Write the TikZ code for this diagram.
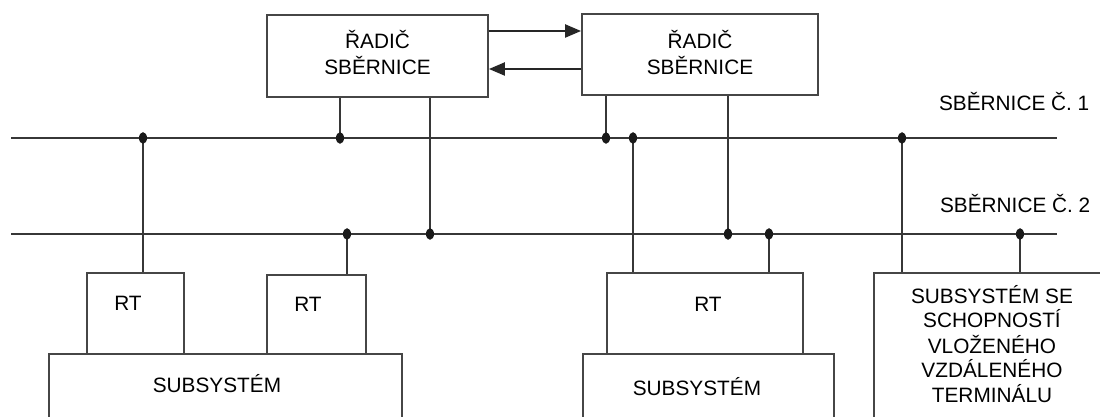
\documentclass[tikz,border=0pt]{standalone}
\usepackage{fontspec}
\setmainfont{Liberation Sans}
\usetikzlibrary{arrows.meta}
\newcommand\liftbox[2]{\raisebox{#1}[0pt][0pt]{#2}}
\definecolor{linec}{RGB}{55,55,55}
\definecolor{boxc}{RGB}{70,70,70}
\begin{document}
\begin{tikzpicture}[x=0.5pt,y=-0.5pt,
  txt/.style={font=\fontsize{10.4pt}{11.5pt}\selectfont, text=black},
  box/.style={txt, draw=boxc, line width=0.9pt, inner sep=0pt, fill=white},
  ctrl/.style={box, font=\fontsize{10.4pt}{12.75pt}\selectfont},
  bus/.style={draw=linec, line width=0.85pt},
  conn/.style={draw=linec, line width=0.85pt},
  arr/.style={draw=black!85, line width=1.1pt, -{Triangle[length=8pt,width=6.5pt]}},
  junction/.style={fill=black!90}
]
\useasboundingbox (0,0) rectangle (1100,417);
\clip (0,0) rectangle (1100,417);

% bus end points and junctions
\coordinate (b1w) at (11,138);  \coordinate (b1e) at (1057,138);
\coordinate (b2w) at (11,234);  \coordinate (b2e) at (1057,234);
\coordinate (j1) at (143,138);
\coordinate (j2) at (340,138);
\coordinate (j3) at (430,234);
\coordinate (j4) at (347,234);
\coordinate (j5) at (606,138);
\coordinate (j6) at (633,138);
\coordinate (j7) at (728,234);
\coordinate (j8) at (769,234);
\coordinate (j9) at (902,138);
\coordinate (j10) at (1020,234);
\coordinate (a1) at (0,31);
\coordinate (a2) at (0,69);

% buses
\draw[bus] (b1w) -- (b1e);
\draw[bus] (b2w) -- (b2e);
\node[txt, anchor=base west] (bl1) at (932,111) {SBĚRNICE Č. 1};
\node[txt, anchor=base west] (bl2) at (933,213) {SBĚRNICE Č. 2};

% boxes
\node[ctrl, minimum width=110.5pt, minimum height=41pt] (lc) at (377.5,56)
  {\liftbox{3.5pt}{\begin{tabular}[t]{@{}c@{}}ŘADIČ\\SBĚRNICE\end{tabular}}};
\node[ctrl, minimum width=118pt, minimum height=40.5pt] (rc) at (700,54.5)
  {\liftbox{3pt}{\begin{tabular}[t]{@{}c@{}}ŘADIČ\\SBĚRNICE\end{tabular}}};

\node[box, minimum width=176.5pt, minimum height=43pt] (sub1) at (225.5,397)
  {\liftbox{2pt}{SUBSYSTÉM\kern8.5pt}};
\node[box, minimum width=125.5pt, minimum height=43pt] (sub2) at (708.5,397)
  {\liftbox{1pt}{SUBSYSTÉM\kern11.5pt}};
\node[box, minimum width=48.5pt, minimum height=40.5pt] (rt1) at (135.5,313.5)
  {\liftbox{1.25pt}{RT\kern7.5pt}};
\node[box, minimum width=49.5pt, minimum height=39.5pt] (rt2) at (316.5,314.5)
  {\liftbox{1.75pt}{RT\kern8.5pt}};
\node[box, minimum width=98pt, minimum height=40.5pt] (rt3) at (705,313.5)
  {\liftbox{1pt}{\kern3pt RT}};
\node[box, minimum width=118pt, minimum height=93.5pt] (big) at (992,366.5)
  {\liftbox{31.75pt}{\begin{tabular}[t]{@{}c@{}}SUBSYSTÉM SE\\SCHOPNOSTÍ\\VLOŽENÉHO\\VZDÁLENÉHO\\TERMINÁLU\end{tabular}}};

% controller arrows
\draw[arr] (lc.east |- a1) -- (rc.west |- a1);
\draw[arr] (rc.west |- a2) -- (lc.east |- a2);

% connectors
\draw[conn] (j1) -- (rt1.north -| j1);
\draw[conn] (lc.south -| j2) -- (j2);
\draw[conn] (lc.south -| j3) -- (j3);
\draw[conn] (j4) -- (rt2.north -| j4);
\draw[conn] (rc.south -| j5) -- (j5);
\draw[conn] (j6) -- (rt3.north -| j6);
\draw[conn] (rc.south -| j7) -- (j7);
\draw[conn] (j8) -- (rt3.north -| j8);
\draw[conn] (j9) -- (big.north -| j9);
\draw[conn] (j10) -- (big.north -| j10);

% junction dots
\foreach \j in {j1,j2,j3,j4,j5,j6,j7,j8,j9,j10}
  \fill[junction] (\j) ellipse [x radius=4, y radius=5.8];
\end{tikzpicture}
\end{document}
